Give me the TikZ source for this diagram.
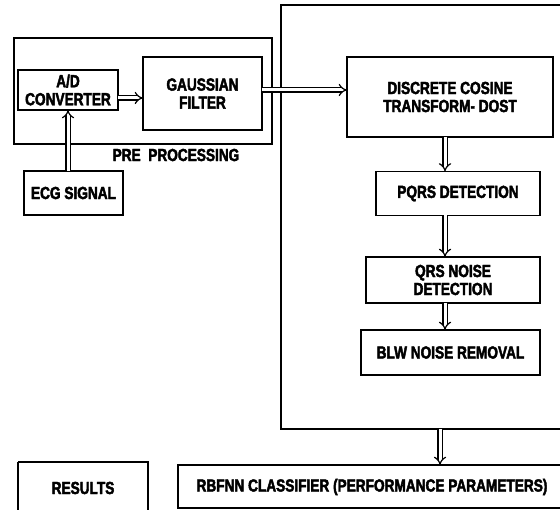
\documentclass[tikz,border=0pt]{standalone}
\usepackage{fontspec}
\setmainfont{Liberation Sans}[FakeStretch=0.78,BoldFeatures={FakeBold=2.5}]
\usetikzlibrary{arrows.meta}
\begin{document}
\begin{tikzpicture}[x=1pt,y=-1pt,
  box/.style={draw,line width=1.6pt},
  lbl/.style={font=\fontsize{17.5}{18}\selectfont\bfseries,align=center,inner sep=0pt},
  dbl/.style={draw,line width=1.2pt,double distance=3pt,-{Implies[length=5pt,width=9pt]}}]
\useasboundingbox (0,0) rectangle (560,510);
% outer boxes
\draw[box] (14,38) rectangle (272,144);
\node[lbl] (pre) at (176,155) {PRE\ \ PROCESSING};
\draw[box] (281,5) rectangle (575,429);
% inner boxes
\node[box,minimum width=100pt,minimum height=40pt] (ad) at (68,90) {};
\node[lbl] at (ad) {A/D\\CONVERTER};
\node[box,minimum width=119pt,minimum height=73pt] (gf) at (202.5,93.5) {};
\node[lbl] at (gf) {GAUSSIAN\\FILTER};
\node[box,minimum width=99pt,minimum height=44pt] (ecg) at (73.5,193) {};
\node[lbl] at (ecg) {ECG SIGNAL};
\node[box,minimum width=206pt,minimum height=80pt] (dct) at (450,97) {};
\node[lbl] at (dct) {DISCRETE COSINE\\TRANSFORM- DOST};
\node[box,minimum width=164pt,minimum height=44pt] (pqrs) at (458,193.5) {};
\node[lbl] at (pqrs) {PQRS DETECTION};
\node[box,minimum width=174pt,minimum height=46pt] (qrs) at (453,280) {};
\node[lbl] at (qrs) {QRS NOISE\\DETECTION};
\node[box,minimum width=179pt,minimum height=45pt] (blw) at (450.5,352.5) {};
\node[lbl] at (blw) {BLW NOISE REMOVAL};
\draw[box] (18,462) -- (148,462) -- (148,515) (18,515) -- (18,462);
\node[lbl] (res) at (83,488) {RESULTS};
\draw[box] (575,465) -- (178,465) -- (178,508) -- (575,508);
\node[lbl] (rbf) at (372,487) {RBFNN CLASSIFIER (PERFORMANCE PARAMETERS)};
% connectors
\coordinate (ecgt) at (68,171);
\coordinate (adb) at (68,110);
\draw[dbl] (ecgt) -- (adb);
\coordinate (adr) at (118,98);
\coordinate (gfl) at (143,98);
\draw[dbl] (adr) -- (gfl);
\coordinate (gfr) at (262,90);
\coordinate (dctl) at (347,90);
\draw[dbl] (gfr) -- (dctl);
\coordinate (d1) at (445,137);
\coordinate (d2) at (445,171.5);
\draw[dbl] (d1) -- (d2);
\coordinate (p1) at (445,215.5);
\coordinate (p2) at (445,257);
\draw[dbl] (p1) -- (p2);
\coordinate (q1) at (445,303);
\coordinate (q2) at (445,330);
\draw[dbl] (q1) -- (q2);
\coordinate (bb) at (440,429);
\coordinate (rt) at (440,465);
\draw[dbl] (bb) -- (rt);
\end{tikzpicture}
\end{document}
